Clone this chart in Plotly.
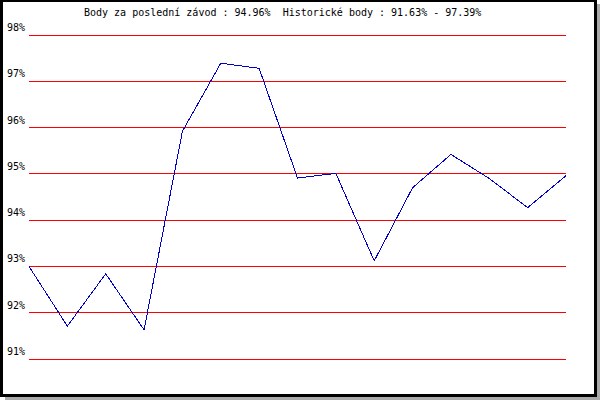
import plotly.graph_objects as go

races = list(range(1, 16))
points = [93.00, 91.71, 92.84, 91.63, 95.92, 97.39, 97.28, 94.91, 95.01, 93.12, 94.70, 95.42, 94.90, 94.27, 94.96]
tick_values = [91, 92, 93, 94, 95, 96, 97, 98]
tick_labels = ["91%", "92%", "93%", "94%", "95%", "96%", "97%", "98%"]
title_text = "Body za poslední závod : 94.96%  Historické body : 91.63% - 97.39%"

W, H = 600, 400
L, R, T, B = 29, 566, 35, 359   # pixel box of 98% .. 91%
EDGE = 2                        # extra px above/below so edge grid lines are not clipped
FONT = "DejaVu Sans Mono"

y_lo, y_hi = tick_values[0], tick_values[-1]
per_px = (y_hi - y_lo) / (B - T)
y_range = [y_lo - EDGE * per_px, y_hi + EDGE * per_px]
top, bottom = T - EDGE, B + EDGE


def px_x(x):
    return (x - L) / (R - L)


def px_y(y):
    return 1 - (y - top) / (bottom - top)


def rect(x0, y0, x1, y1, color):
    return dict(type="rect", xref="paper", yref="paper", layer="below",
                x0=px_x(x0), x1=px_x(x1), y0=px_y(y1), y1=px_y(y0),
                fillcolor=color, line={"width": 0})


fig = go.Figure(go.Scatter(x=races, y=points, mode="lines",
                           line={"color": "#0000cc", "width": 1}, hoverinfo="skip"))

annotations = [dict(x=0, y=v, xref="paper", yref="y", text=t, showarrow=False,
                    xanchor="right", yanchor="bottom", xshift=-2, yshift=0,
                    font={"family": FONT, "size": 10, "color": "#000000"})
               for v, t in zip(tick_values, tick_labels)]
annotations.append(dict(x=px_x(82), y=px_y(20), xref="paper", yref="paper", text=title_text,
                        showarrow=False, xanchor="left", yanchor="bottom",
                        font={"family": FONT, "size": 10, "color": "#000000"}))

shapes = [
    rect(5, 4, 600, 400, "#aaaaaa"),
    rect(0, 0, 597, 397, "#000000"),
    rect(3, 2, 594, 394, "#ffffff"),
]
# horizontal grid lines as shapes
shapes += [dict(type="line", xref="paper", yref="y", layer="below",
                x0=0, x1=1, y0=v, y1=v, line={"color": "#ff0000", "width": 1})
           for v in tick_values]

fig.update_layout(
    width=W, height=H, autosize=False,
    margin={"l": L, "r": W - R, "t": top, "b": H - bottom, "pad": 0},
    paper_bgcolor="#ffffff",
    plot_bgcolor="rgba(0,0,0,0)",
    showlegend=False,
    xaxis={"range": [1, 15], "visible": False, "showgrid": False, "zeroline": False},
    yaxis={"range": y_range, "showticklabels": False, "showgrid": False,
           "zeroline": False, "showline": False, "ticks": ""},
    annotations=annotations,
    shapes=shapes,
)

# old-school aliased look: no antialiasing on grid and data line
crisp = """
document.body.style.margin='0';
document.querySelectorAll('.shapelayer path, .scatterlayer path').forEach(function(p){
    p.style.shapeRendering='crispEdges';
});
"""
fig.write_html("out.html", config={"displayModeBar": False}, post_script=crisp)
